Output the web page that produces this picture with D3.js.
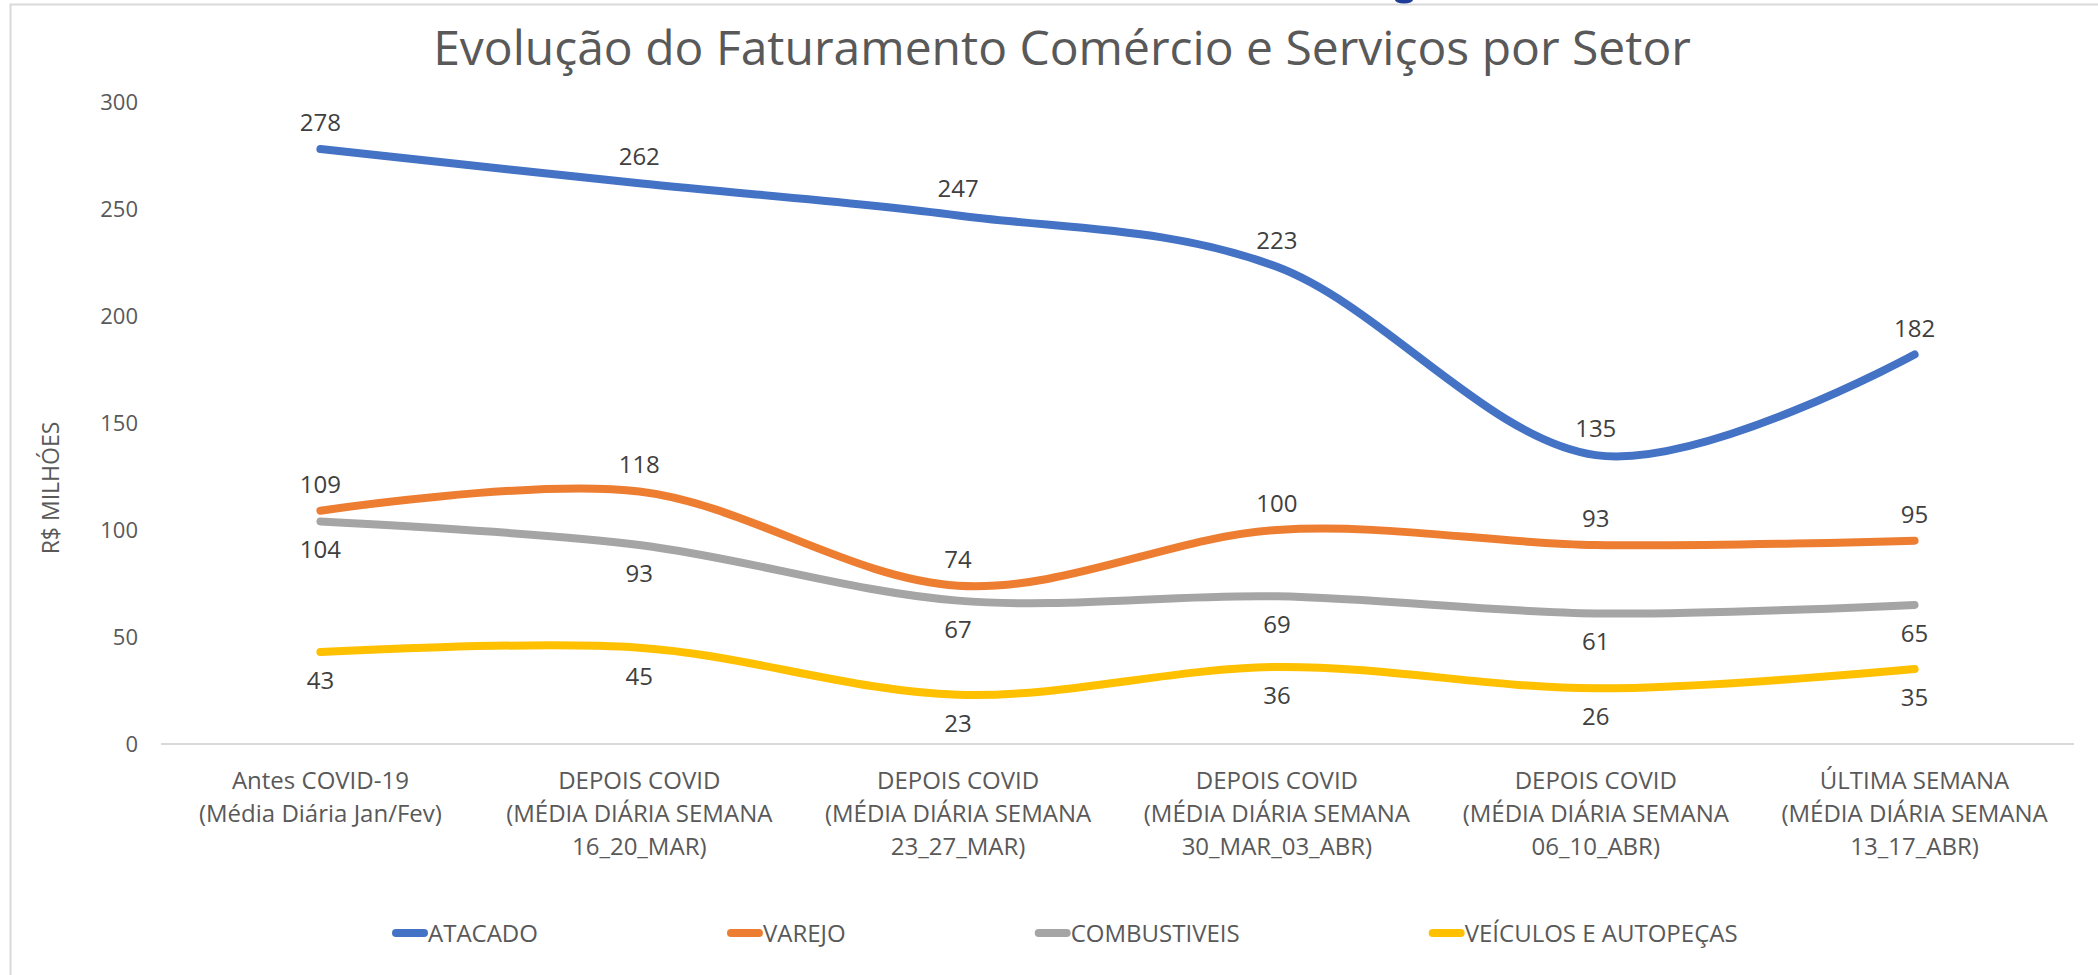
<!DOCTYPE html>
<html>
<head>
  <meta charset="utf-8">
  <title>Evolução do Faturamento Comércio e Serviços por Setor</title>
  <script src="https://d3js.org/d3.v7.min.js"></script>
  <style>
    body { margin: 0; background: #fff; font-family: "Open Sans", sans-serif; }
    svg text { font-family: "Open Sans", sans-serif; }
  </style>
</head>
<body>
  <div id="chart"></div>
  <script>
    // categories (one entry per line of the label)
    const categories = [
      ["Antes COVID-19", "(Média Diária Jan/Fev)"],
      ["DEPOIS COVID", "(MÉDIA DIÁRIA SEMANA", "16_20_MAR)"],
      ["DEPOIS COVID", "(MÉDIA DIÁRIA SEMANA", "23_27_MAR)"],
      ["DEPOIS COVID", "(MÉDIA DIÁRIA SEMANA", "30_MAR_03_ABR)"],
      ["DEPOIS COVID", "(MÉDIA DIÁRIA SEMANA", "06_10_ABR)"],
      ["ÚLTIMA SEMANA", "(MÉDIA DIÁRIA SEMANA", "13_17_ABR)"]
    ];
    const atacado = [278, 262, 247, 223, 135, 182];
    const varejo = [109, 118, 74, 100, 93, 95];
    const combustiveis = [104, 93, 67, 69, 61, 65];
    const veiculos = [43, 45, 23, 36, 26, 35];
    const yTicks = [0, 50, 100, 150, 200, 250, 300];

    const series = [
      { name: "ATACADO", values: atacado, color: "#4472C4", above: true },
      { name: "VAREJO", values: varejo, color: "#ED7D31", above: true },
      { name: "COMBUSTIVEIS", values: combustiveis, color: "#A5A5A5", above: false },
      { name: "VEÍCULOS E AUTOPEÇAS", values: veiculos, color: "#FFC000", above: false }
    ];

    const width = 2098, height = 975;
    const plot = { left: 161, right: 2074, top: 102, bottom: 744 };

    const svg = d3.select("#chart").append("svg")
      .attr("width", width)
      .attr("height", height);

    svg.append("rect").attr("width", width).attr("height", height).attr("fill", "#fff");

    // frame
    svg.append("path")
      .attr("d", `M10.5,${height} L10.5,4.5 L${width},4.5`)
      .attr("fill", "none")
      .attr("stroke", "#d9d9d9")
      .attr("stroke-width", 2);
    svg.append("ellipse")
      .attr("cx", 1404).attr("cy", 0).attr("rx", 9).attr("ry", 3.5)
      .attr("fill", "#1f3c99");

    // title
    svg.append("text")
      .attr("x", 1062).attr("y", 65)
      .attr("text-anchor", "middle")
      .attr("font-size", 48)
      .attr("fill", "#595959")
      .text("Evolução do Faturamento Comércio e Serviços por Setor");

    const x = d3.scalePoint()
      .domain(d3.range(categories.length))
      .range([plot.left, plot.right])
      .padding(0.5);

    const y = d3.scaleLinear()
      .domain([0, 300])
      .range([plot.bottom, plot.top]);

    // y tick labels
    svg.append("g").selectAll("text")
      .data(yTicks)
      .join("text")
      .attr("x", 138)
      .attr("y", d => y(d) + 8)
      .attr("text-anchor", "end")
      .attr("font-size", 22)
      .attr("fill", "#595959")
      .text(d => d);

    // y title
    svg.append("text")
      .attr("transform", "translate(59,488) rotate(-90)")
      .attr("text-anchor", "middle")
      .attr("font-size", 23)
      .attr("fill", "#595959")
      .text("R$ MILHÓES");

    // x axis line
    svg.append("line")
      .attr("x1", plot.left).attr("x2", plot.right)
      .attr("y1", plot.bottom).attr("y2", plot.bottom)
      .attr("stroke", "#d9d9d9")
      .attr("stroke-width", 2);

    // category labels
    const cat = svg.append("g").selectAll("text")
      .data(categories)
      .join("text")
      .attr("text-anchor", "middle")
      .attr("font-size", 24)
      .attr("fill", "#595959");
    cat.selectAll("tspan")
      .data((d, i) => d.map(t => ({ t, i })))
      .join("tspan")
      .attr("x", d => x(d.i))
      .attr("y", (d, j) => 789 + j * 33)
      .text(d => d.t);

    const line = d3.line()
      .x((d, i) => x(i))
      .y(d => y(d))
      .curve(d3.curveCardinal.tension(0));

    series.forEach(s => {
      svg.append("path")
        .datum(s.values)
        .attr("d", line)
        .attr("fill", "none")
        .attr("stroke", s.color)
        .attr("stroke-width", 8)
        .attr("stroke-linecap", "round");
    });

    // data labels
    series.forEach(s => {
      svg.append("g").selectAll("text")
        .data(s.values)
        .join("text")
        .attr("x", (d, i) => x(i))
        .attr("y", d => s.above ? y(d) - 18 : y(d) + 37)
        .attr("text-anchor", "middle")
        .attr("font-size", 24)
        .attr("fill", "#404040")
        .text(d => d);
    });

    // legend: marker + text, entries separated by a fixed gap
    const leg = svg.append("g");
    let lx = 392;
    series.forEach(s => {
      const g = leg.append("g").attr("transform", `translate(${lx},933)`);
      g.append("line")
        .attr("x1", 4).attr("x2", 32)
        .attr("stroke", s.color)
        .attr("stroke-width", 8)
        .attr("stroke-linecap", "round");
      const t = g.append("text")
        .attr("x", 36).attr("y", 9)
        .attr("font-size", 24)
        .attr("fill", "#595959")
        .text(s.name);
      lx += 36 + t.node().getComputedTextLength() + 189;
    });
  </script>
</body>
</html>
